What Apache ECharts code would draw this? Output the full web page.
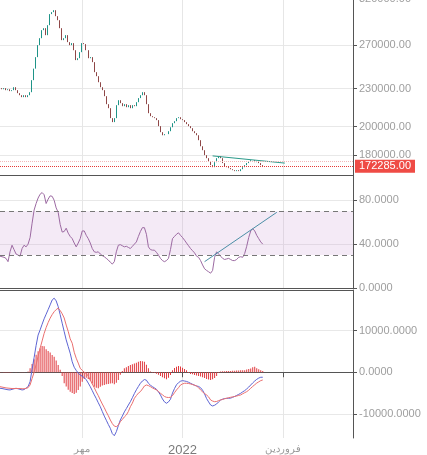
<!DOCTYPE html>
<html>
<head>
<meta charset="utf-8">
<script src="https://cdn.jsdelivr.net/npm/echarts@6/dist/echarts.min.js"></script>
<style>
  html, body { margin: 0; padding: 0; background: #fff; }
  #chart { width: 427px; height: 455px; }
</style>
</head>
<body>
<div id="chart"></div>
<script>
// daily closes (open = previous close)
var closes = [
  230400, 229500, 230400, 228700, 229500, 227900, 228700, 231200, 228700, 226200,
  224500, 222900, 224500, 222900, 224500, 227000, 237300, 247600, 258300, 270000,
  277000, 285300, 287400, 280100, 290600, 302700, 304900, 307100, 300400, 296000,
  287400, 275000, 277000, 280100, 273000, 270000, 272000, 265000, 255500, 257300,
  263100, 272000, 271000, 265000, 257300, 258300, 253600, 244400, 240800, 235500,
  231200, 228700, 223700, 217200, 214000, 206300, 203300, 206300, 216400, 220400,
  218000, 215600, 217200, 214800, 216400, 214000, 216400, 215600, 218800, 222100,
  224500, 227000, 224500, 217200, 210100, 207800, 207000, 206300, 204800, 200300,
  195900, 193700, 194500, 194500, 196600, 199500, 202500, 204000, 206300, 207000,
  205500, 204800, 203300, 201800, 200300, 198800, 196600, 195200, 193700, 190200,
  186000, 183300, 180000, 178000, 176000, 173500, 172200, 175400, 178000, 179300,
  178000, 174800, 172800, 172200, 171600, 170900, 170300, 169700, 170300, 169700,
  170900, 172200, 173500, 174800, 176000, 176700, 176700, 175400, 176000, 174800,
  173500, 172285
];

var rsi = [
  29, 28.5, 28, 27, 24, 33, 39, 35, 31, 30,
  29, 36, 39, 37.5, 40, 46, 59, 71, 77, 82,
  85.5, 87, 85, 77, 81, 84, 83.6, 80, 73, 69,
  58, 51, 51.5, 54.5, 50, 47, 45, 41, 37.5, 41,
  45, 52, 52, 48, 45, 41, 36, 33, 32.5, 33,
  31, 29.5, 28.5, 27, 25.5, 23.5, 21.8, 24, 33, 39,
  39.5, 38.5, 37.5, 38, 37, 36, 38, 40, 42, 47,
  51.5, 55, 55, 49, 37.5, 35, 34.5, 34.5, 32.5, 30,
  27, 25, 24, 25, 27, 35, 45, 47, 49, 50.3,
  48, 46, 43.6, 41, 38.5, 36, 34, 32, 29, 28,
  25, 21, 17.5, 16, 14.8, 13.5, 16, 28, 33, 31,
  29, 27, 26, 26.5, 27, 26, 25, 25, 26, 28,
  28.5, 28, 31.5, 38, 46, 52, 54, 52, 48, 45,
  42, 40
];

var macd = [
  -3840, -3900, -4000, -4100, -4200, -4240, -4100, -3950, -3840, -3950,
  -4100, -4240, -4150, -3800, -3450, -2250, 700, 3500, 6400, 8900,
  10140, 11500, 12800, 13900, 15000, 16140, 17300, 17740, 17100, 15730,
  13800, 11750, 9750, 7750, 6150, 4560, 2500, 1200, 450, -200,
  -650, -950, -1300, -1800, -2600, -3450, -4400, -5400, -6300, -7300,
  -8250, -9400, -10500, -11500, -12500, -13430, -14700, -15200, -14240, -12800,
  -11440, -10500, -9500, -8700, -7850, -7050, -6100, -5100, -4200, -3400,
  -2640, -2100, -1750, -1900, -2640, -3100, -3450, -3750, -4080, -4700,
  -5440, -6400, -7100, -7430, -7100, -6470, -5000, -3900, -3000, -2500,
  -2150, -2010, -2100, -2200, -2400, -2650, -2880, -3100, -3300, -3400,
  -3700, -4300, -5200, -6300, -7100, -7840, -8080, -7900, -7600, -7100,
  -6640, -6450, -6300, -6250, -6240, -6200, -6000, -5800, -5550, -5300,
  -5040, -4700, -4400, -4000, -3550, -3050, -2550, -2100, -1700, -1400,
  -1200, -1200
];

var signal = [
  -3450, -3550, -3650, -3750, -3800, -3850, -3900, -3900, -3900, -3900,
  -3900, -3950, -3950, -3850, -3700, -3050, -1500, 0, 1800, 3800,
  5750, 7500, 9300, 10700, 11900, 12950, 13800, 14500, 15000, 15350,
  14800, 14000, 13000, 11300, 9800, 8000, 6950, 4800, 3360, 2200,
  960, 450, 0, -300, -900, -1850, -2800, -3700, -4700, -5600,
  -6640, -7600, -8500, -9500, -10400, -11440, -12300, -12900, -13040, -12640,
  -11840, -11300, -10700, -10240, -9400, -8250, -7400, -6240, -5600, -5000,
  -4650, -4000, -3300, -3050, -3200, -3450, -3750, -4000, -4240, -4600,
  -5040, -5400, -5800, -6000, -6050, -6000, -5600, -4900, -4240, -3700,
  -3050, -2800, -2640, -2640, -2700, -2800, -2950, -3100, -3290, -3700,
  -4240, -4700, -5100, -5440, -5900, -6640, -6900, -7050, -7000, -6800,
  -6640, -6500, -6350, -6240, -6100, -6000, -5900, -5800, -5700, -5550,
  -5440, -5150, -4900, -4650, -4300, -3840, -3400, -3000, -2600, -2300,
  -2010, -1850
];

var hist = [
  -100, -80, -100, -120, -150, -120, -60, -30, 30, -20,
  -60, -90, -60, 20, 150, 960, 2000, 3100, 4200, 5000,
  5750, 6300, 6200, 5520, 5100, 4700, 4150, 3700, 2800, 1750,
  600, -900, -2640, -3400, -4200, -4650, -4950, -5200, -4900, -4240,
  -3400, -2250, -1600, -1300, -1600, -2000, -2700, -3450, -3700, -3840,
  -3450, -3200, -3050, -2900, -2800, -2700, -2640, -2900, -2500, -1850,
  -600, 300, 960, 1200, 1500, 1750, 1900, 2100, 2300, 2500,
  2700, 2650, 2540, 1800, 960, 200, -100, -200, -350, -600,
  -900, -1200, -1440, -1680, -1300, -650, 500, 1000, 1340, 1500,
  1400, 1100, 800, 500, -200, -400, -500, -650, -750, -900,
  -1000, -1200, -1400, -1600, -1750, -1850, -1680, -1400, -900, -200,
  200, 250, 250, 300, 300, 300, 350, 350, 400, 400,
  450, 500, 500, 650, 800, 880, 1200, 1340, 960, 700,
  500, 300
];

// trend lines drawn on the chart: [bar index, value]
var priceTrend = [[106, 179500], [142, 174800]];
var rsiTrend = [[102, 24], [138, 69]];
var prevLevel = 175700; // faint dotted level above the last price

var barCount = 177; // includes empty space to the right
var monthTicks = [[41, 'مهر'], [91, '2022'], [141, 'فروردین']];
var priceTicks = [320000, 270000, 230000, 200000, 180000];
var rsiTicks = [0, 40, 80];
var macdTicks = [-10000, 0, 10000];

var xLabels = [];
for (var i = 0; i < barCount; i++) xLabels.push('');
monthTicks.forEach(function (t) { xLabels[t[0]] = t[1]; });

var candles = closes.map(function (c, i) {
  var o = i > 0 ? closes[i - 1] : c;
  return [Math.log(o), Math.log(c), Math.log(Math.min(o, c)), Math.log(Math.max(o, c))];
});
var lastClose = closes[closes.length - 1];

var chart = echarts.init(document.getElementById('chart'));

function onTick(idx, val) { return val !== ''; }

function xAxis(grid, showLabel) {
  return {
    type: 'category',
    gridIndex: grid,
    data: xLabels,
    boundaryGap: false,
    axisLine: { show: true, lineStyle: { color: '#555', width: 1 } },
    axisTick: { show: showLabel, interval: onTick, length: 5, lineStyle: { color: '#555' } },
    axisLabel: {
      show: showLabel,
      interval: 0,
      margin: 6,
      fontSize: 10,
      color: '#999',
      formatter: function (v) { return v === '2022' ? '{y|2022}' : v; },
      rich: { y: { fontSize: 13, color: '#7a7a7a', fontFamily: 'Liberation Sans' } }
    },
    splitLine: { show: true, interval: onTick, lineStyle: { color: '#e6e6e6' } }
  };
}

function yAxis(grid, opts) {
  return {
    type: 'value',
    gridIndex: grid,
    position: 'right',
    scale: true,
    axisLine: { show: true, lineStyle: { color: '#555' } },
    axisTick: { show: true, length: 4, lineStyle: { color: '#555' }, customValues: opts.ticks },
    axisLabel: {
      color: '#9e9e9e', fontSize: 11, margin: 6, fontFamily: 'Liberation Sans',
      customValues: opts.ticks, formatter: opts.fmt
    },
    splitLine: { show: true, lineStyle: { color: '#e8e8e8' } },
    min: opts.min,
    max: opts.max
  };
}

var option = {
  animation: false,
  backgroundColor: '#fff',
  grid: [
    { left: 0, right: 74, top: -4, height: 179, outerBoundsMode: 'none' },
    { left: 0, right: 74, top: 175, height: 113, outerBoundsMode: 'none' },
    { left: 0, right: 74, top: 290, height: 148, outerBoundsMode: 'none' }
  ],
  xAxis: [
    xAxis(0, false),
    xAxis(1, false),
    xAxis(2, true),
    {
      type: 'category', gridIndex: 2, data: xLabels, boundaryGap: false, position: 'top',
      axisLine: { show: true, lineStyle: { color: '#555' } },
      axisTick: { show: false }, axisLabel: { show: false }, splitLine: { show: false }
    }
  ],
  yAxis: [
    yAxis(0, {
      min: Math.log(167300), max: Math.log(323600),
      ticks: priceTicks.map(Math.log),
      fmt: function (v) { return Math.exp(v).toFixed(2); }
    }),
    yAxis(1, {
      min: 0, max: 103, ticks: rsiTicks,
      fmt: function (v) { return v.toFixed(4); }
    }),
    yAxis(2, {
      min: -15750, max: 19700, ticks: macdTicks,
      fmt: function (v) { return v.toFixed(4); }
    })
  ],
  series: [
    {
      type: 'candlestick',
      xAxisIndex: 0, yAxisIndex: 0,
      data: candles,
      barWidth: 1,
      itemStyle: {
        color: '#1f9488', color0: '#8f4747',
        borderColor: '#1f9488', borderColor0: '#8f4747', borderWidth: 1
      },
      markLine: {
        silent: true,
        symbol: 'none',
        data: [
          {
            yAxis: Math.log(prevLevel),
            lineStyle: { color: '#f2b8b8', type: 'dotted', width: 1 },
            label: { show: false }
          },
          {
            yAxis: Math.log(lastClose),
            lineStyle: { color: '#e53935', type: 'dotted', width: 1 },
            label: {
              show: true, position: 'end', distance: 2,
              formatter: lastClose.toFixed(2),
              backgroundColor: '#ef4b45', color: '#fff',
              fontSize: 11, fontFamily: 'Liberation Sans', padding: [1, 4, 1, 4]
            }
          }
        ]
      }
    },
    {
      type: 'line',
      xAxisIndex: 0, yAxisIndex: 0,
      data: priceTrend.map(function (p) { return [p[0], Math.log(p[1])]; }),
      symbol: 'none',
      lineStyle: { color: '#2b9a8a', width: 1 }
    },
    {
      type: 'line',
      xAxisIndex: 1, yAxisIndex: 1,
      data: rsi,
      symbol: 'none',
      lineStyle: { color: '#9c6aa2', width: 1 },
      markArea: {
        silent: true,
        itemStyle: { color: 'rgba(206,160,214,0.22)' },
        data: [[{ yAxis: 30 }, { yAxis: 70 }]]
      },
      markLine: {
        silent: true,
        symbol: 'none',
        label: { show: false },
        lineStyle: { color: '#777', type: [5, 4], width: 1 },
        data: [{ yAxis: 70 }, { yAxis: 30 }]
      }
    },
    {
      type: 'line',
      xAxisIndex: 1, yAxisIndex: 1,
      data: rsiTrend,
      symbol: 'none',
      lineStyle: { color: '#4b8ea6', width: 1 }
    },
    {
      type: 'bar',
      xAxisIndex: 2, yAxisIndex: 2,
      data: hist,
      barWidth: 1,
      itemStyle: { color: '#e0393e' }
    },
    {
      type: 'line',
      xAxisIndex: 2, yAxisIndex: 2,
      data: macd,
      symbol: 'none',
      lineStyle: { color: '#5d64d3', width: 1 }
    },
    {
      type: 'line',
      xAxisIndex: 2, yAxisIndex: 2,
      data: signal,
      symbol: 'none',
      lineStyle: { color: '#ea6f6f', width: 1 }
    }
  ]
};

chart.setOption(option);
</script>
</body>
</html>
